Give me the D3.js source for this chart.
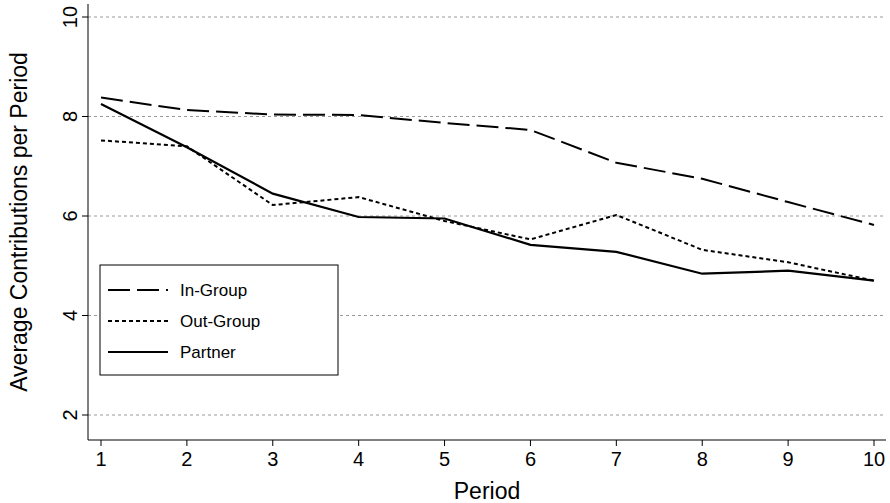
<!DOCTYPE html>
<meta charset="utf-8">
<style>
  body { margin: 0; background: #fff; }
  text { font-family: "Liberation Sans", Arial, sans-serif; fill: #000; }
</style>
<body>
<script src="https://d3js.org/d3.v7.min.js"></script>
<script>

var periods = [1, 2, 3, 4, 5, 6, 7, 8, 9, 10];
var inGroup = [8.38, 8.13, 8.04, 8.03, 7.87, 7.73, 7.07, 6.75, 6.28, 5.82];
var outGroup = [7.52, 7.40, 6.22, 6.38, 5.90, 5.53, 6.02, 5.32, 5.07, 4.70];
var partner = [8.25, 7.38, 6.45, 5.98, 5.95, 5.42, 5.28, 4.84, 4.90, 4.70];
var yTicks = [2, 4, 6, 8, 10];

var series = [
  {name: "In-Group", values: inGroup, dash: "22,7", width: 2},
  {name: "Out-Group", values: outGroup, dash: "4,3", width: 2},
  {name: "Partner", values: partner, dash: null, width: 2.2}
];

var width = 890, height = 503;

var svg = d3.select("body").append("svg")
  .attr("width", width)
  .attr("height", height);

var x = d3.scaleLinear().domain([1, 10]).range([101, 874]);
var y = d3.scaleLinear().domain([2, 10]).range([415, 17]);

var plotLeft = 88, plotBottom = 440, plotRight = 886, plotTop = 4;

// grid
svg.selectAll("line.grid")
  .data(yTicks)
  .enter().append("line")
    .attr("x1", plotLeft).attr("x2", plotRight)
    .attr("y1", y).attr("y2", y)
    .attr("stroke", "#999")
    .attr("stroke-width", 1)
    .attr("stroke-dasharray", "3,3");

// axes
svg.append("line").attr("x1", plotLeft).attr("x2", plotLeft).attr("y1", plotTop).attr("y2", plotBottom)
  .attr("stroke", "#000");
svg.append("line").attr("x1", plotLeft).attr("x2", plotRight).attr("y1", plotBottom).attr("y2", plotBottom)
  .attr("stroke", "#000");

svg.selectAll("line.ytick").data(yTicks).enter().append("line")
  .attr("x1", plotLeft - 6).attr("x2", plotLeft).attr("y1", y).attr("y2", y).attr("stroke", "#000");
svg.selectAll("text.ytick").data(yTicks).enter().append("text")
  .attr("class", "ytick")
  .attr("transform", function(d) { return "translate(" + (plotLeft - 11) + "," + y(d) + ") rotate(-90)"; })
  .attr("text-anchor", "middle")
  .attr("font-size", 20)
  .text(function(d) { return d; });

svg.selectAll("line.xtick").data(periods).enter().append("line")
  .attr("x1", x).attr("x2", x).attr("y1", plotBottom).attr("y2", plotBottom + 6).attr("stroke", "#000");
svg.selectAll("text.xtick").data(periods).enter().append("text")
  .attr("class", "xtick")
  .attr("x", x).attr("y", plotBottom + 26)
  .attr("text-anchor", "middle")
  .attr("font-size", 20)
  .text(function(d) { return d; });

svg.append("text")
  .attr("x", (plotLeft + plotRight) / 2).attr("y", 499)
  .attr("text-anchor", "middle").attr("font-size", 23)
  .text("Period");
svg.append("text")
  .attr("transform", "rotate(-90)")
  .attr("x", -(plotBottom + plotTop) / 2).attr("y", 27)
  .attr("text-anchor", "middle").attr("font-size", 23)
  .text("Average Contributions per Period");

var line = d3.line()
  .x(function(d, i) { return x(periods[i]); })
  .y(function(d) { return y(d); });

svg.selectAll("path.series").data(series).enter().append("path")
  .attr("d", function(d) { return line(d.values); })
  .attr("fill", "none")
  .attr("stroke", "#000")
  .attr("stroke-width", function(d) { return d.width; })
  .attr("stroke-dasharray", function(d) { return d.dash; });

// legend
var lg = svg.append("g").attr("transform", "translate(100,265)");
lg.append("rect").attr("width", 238).attr("height", 110)
  .attr("fill", "#fff").attr("stroke", "#000");
var items = lg.selectAll("g").data(series).enter().append("g")
  .attr("transform", function(d, i) { return "translate(0," + (25 + i * 31) + ")"; });
items.append("line").attr("x1", 8).attr("x2", 68)
  .attr("stroke", "#000")
  .attr("stroke-width", function(d) { return d.width; })
  .attr("stroke-dasharray", function(d) { return d.dash; });
items.append("text").attr("x", 80).attr("y", 6).attr("font-size", 17)
  .text(function(d) { return d.name; });

</script>
